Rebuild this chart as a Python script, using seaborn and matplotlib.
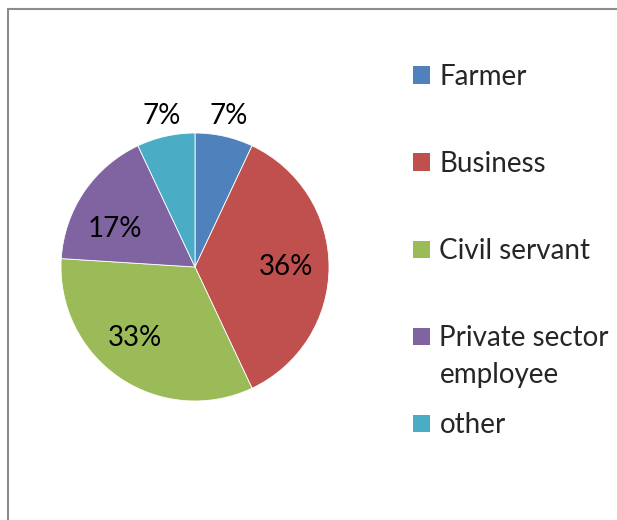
import matplotlib
matplotlib.use('Agg')
import matplotlib.pyplot as plt
from matplotlib.patches import Patch
import seaborn as sns
import numpy as np

# Data
categories = ['Farmer', 'Business', 'Civil servant', 'Private sector', 'other']
shares = [7, 36, 33, 17, 7]
colors = ['#4F81BD', '#C0504D', '#9BBB59', '#8064A2', '#4BACC6']
# label placement: radial distance (pie radius units) and angular nudge (degrees)
label_dist = [1.155, 0.68, 0.69, 0.66, 1.155]
label_turn = [0, 0, -6, 9, 0]

sns.set_theme(style='white')
plt.rcParams['font.family'] = ['Lato', 'DejaVu Sans']

W, H = 617, 520
fig = plt.figure(figsize=(W / 100, H / 100), dpi=100)

# Chart border (only top and left edges are inside the crop)
fig.add_artist(plt.Line2D([8 / W, 8 / W], [0, 1 - 8.5 / H], transform=fig.transFigure,
                          color='#8c8c8c', lw=1.5))
fig.add_artist(plt.Line2D([8 / W, 1], [1 - 8.5 / H, 1 - 8.5 / H], transform=fig.transFigure,
                          color='#8c8c8c', lw=1.5))

# Pie chart
cx, cy, r = 195, 267, 134
ax = fig.add_axes([(cx - r) / W, (H - cy - r) / H, 2 * r / W, 2 * r / H])
wedges, texts, autotexts = ax.pie(shares, colors=colors, startangle=90, counterclock=False,
                                  autopct='%1.0f%%', radius=1,
                                  wedgeprops=dict(linewidth=0.6, edgecolor='white'),
                                  textprops=dict(fontsize=20, color='black'))
ax.set_xlim(-1, 1)
ax.set_ylim(-1, 1)
ax.set_aspect('equal')

# Move the percentage labels like Excel's best-fit placement
for w, t, d, turn in zip(wedges, autotexts, label_dist, label_turn):
    ang = np.deg2rad((w.theta1 + w.theta2) / 2 + turn)
    t.set_position((d * np.cos(ang), d * np.sin(ang)))

# Legend
handles = [Patch(facecolor=c, edgecolor='none') for c in colors]
leg = fig.legend(handles, categories, loc='upper left',
                 bbox_to_anchor=(413 / W, 1 - 64 / H), frameon=False, fontsize=20,
                 handlelength=0.6, handleheight=0.6, handletextpad=0.35,
                 labelspacing=2.2, borderpad=0, borderaxespad=0)

# Second line of the "Private sector employee" entry
fig.canvas.draw()
bb = leg.get_texts()[3].get_window_extent()
fig.text(bb.x0 / W, (bb.y0 + bb.y1) / 2 / H - 37 / H, 'employee', fontsize=20,
         va='center', ha='left')

fig.savefig('out.png', dpi=100)
